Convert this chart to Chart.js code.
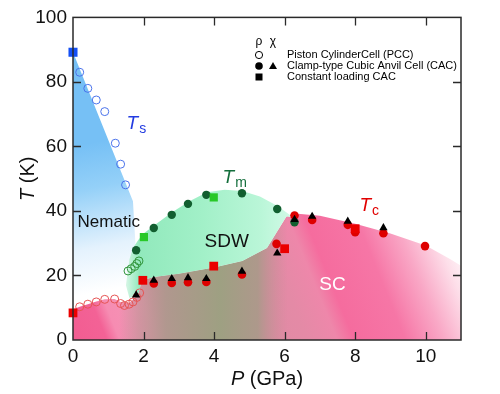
<!DOCTYPE html>
<html><head><meta charset="utf-8">
<script src="https://cdn.jsdelivr.net/npm/chart.js@4/dist/chart.umd.min.js"></script>
<style>html,body{margin:0;padding:0;background:#fff;}canvas{display:block}</style>
</head><body>
<canvas id="c" width="500" height="394"></canvas>
<script>
// ---- axis ticks ----
const xTicks = [0, 2, 4, 6, 8, 10];
const yTicks = [0, 20, 40, 60, 80, 100];

// ---- T_s (nematic) ----
const tsSquareP = [0];
const tsSquareT = [89.2];
const tsPccP = [0.19, 0.42, 0.66, 0.90, 1.20, 1.35, 1.49];
const tsPccT = [83.0, 78.0, 74.4, 70.8, 61.0, 54.5, 48.1];

// ---- T_m (SDW) ----
const tmCacP = [1.79, 2.29, 2.80, 3.26, 3.78, 4.79, 5.79, 6.28];
const tmCacT = [27.8, 34.7, 38.8, 42.2, 45.0, 45.5, 40.6, 36.5];
const tmSquareP = [2.01, 3.99];
const tmSquareT = [31.9, 44.2];
const tmPccP = [1.56, 1.65, 1.75, 1.81, 1.87];
const tmPccT = [21.4, 22.1, 22.8, 23.7, 24.5];

// ---- T_c (SC) ----
const tcPccP = [0.19, 0.42, 0.66, 0.90, 1.18, 1.35, 1.46, 1.59, 1.70, 1.81, 1.89];
const tcPccT = [10.3, 11.1, 11.8, 12.6, 12.7, 11.3, 10.7, 11.1, 11.8, 13.2, 14.6];
const tcRhoCacP = [2.29, 2.80, 3.26, 3.78, 4.79, 5.77, 6.28, 6.78, 7.79, 8.00, 8.80, 9.98];
const tcRhoCacT = [17.5, 17.7, 17.9, 18.0, 20.3, 29.8, 38.6, 37.2, 35.7, 33.4, 33.1, 29.1];
const tcChiCacP = [1.79, 2.29, 2.80, 3.26, 3.78, 4.79, 5.79, 6.28, 6.78, 7.79, 8.80];
const tcChiCacT = [13.9, 18.5, 19.0, 19.3, 19.0, 21.3, 26.9, 37.3, 38.3, 36.8, 34.8];
const tcSquareP = [0, 1.98, 3.99, 6.00, 8.00];
const tcSquareT = [8.4, 18.5, 22.9, 28.3, 34.5];

// ---- shaded phase regions (boundaries in P, T) ----
const nematicP = [0, 1.70, 1.78, 1.85, 1.85, 0, 0];
const nematicT = [89.2, 43, 28, 16, 0, 0, 89.2];
const scP = [0, 0.19, 0.42, 0.66, 0.90, 1.18, 1.35, 1.60, 1.85, 1.95, 2.3, 3.0, 4.0, 4.8, 5.5, 6.05, 6.3, 7.0, 8.0, 9.0, 10.0, 10.7, 11, 11, 0, 0];
const scT = [9.5, 10.3, 11.1, 11.9, 12.6, 12.7, 11.8, 11.5, 14, 18.5, 19.5, 20.5, 22.5, 24.5, 28.5, 38.3, 39.2, 38.5, 36, 33, 29.3, 25, 23, 0, 0, 9.5];
const overlapP = [1.3, 1.6, 1.85, 1.95, 2.3, 3.0, 4.0, 4.8, 5.5, 6.05, 6.1, 1.3, 1.3];
const overlapT = [12, 11.5, 14, 18.5, 19.5, 20.5, 22.5, 24.5, 28.5, 38.3, 0, 0, 12];
const sdwP = [1.5, 1.6, 1.7, 1.85, 2.0, 2.3, 2.8, 3.3, 3.8, 4.3, 4.8, 5.3, 5.8, 6.25, 6.05, 5.5, 4.8, 4.0, 3.0, 2.3, 1.95, 1.85, 1.6, 1.5];
const sdwT = [17, 25, 28.5, 31, 33, 35.5, 39.5, 43, 45.8, 46.6, 46.2, 44.5, 41.5, 38, 38.3, 28.5, 24.5, 22.5, 20.5, 19.5, 18.5, 14, 13, 17];

const FONT = "'Liberation Sans', Arial, sans-serif";

function pts(P, T) { return P.map((p, i) => ({ x: p, y: T[i] })); }
function lin(c, x0, y0, x1, y1, stops) {
  const g = c.createLinearGradient(x0, y0, x1, y1);
  stops.forEach(s => g.addColorStop(s[0], s[1]));
  return g;
}
function regionFill(build) {
  return (ctx) => {
    const ch = ctx.chart;
    if (!ch.chartArea || !ch.scales.x) return 'rgba(0,0,0,0)';
    return build(ch.ctx, ch.scales.x, ch.scales.y);
  };
}
function region(P, T, build, order) {
  return { data: pts(P, T), showLine: true, fill: 'shape', borderWidth: 0, borderColor: 'rgba(0,0,0,0)',
    pointRadius: 0, pointHoverRadius: 0, tension: 0, backgroundColor: regionFill(build), order };
}
function marks(P, T, style, r, fillC, strokeC, bw, order) {
  return { data: pts(P, T), pointStyle: style, pointRadius: r, pointHoverRadius: r,
    backgroundColor: fillC, borderColor: strokeC, borderWidth: bw, pointBorderWidth: bw,
    showLine: false, clip: false, order };
}

const nematicFill = (c, xs, ys) => lin(c, xs.getPixelForValue(0), ys.getPixelForValue(60), xs.getPixelForValue(0.8), ys.getPixelForValue(15),
  [[0, 'rgb(118,192,245)'], [0.3, 'rgb(148,208,248)'], [0.7, 'rgb(228,242,253)'], [1, 'rgb(255,255,255)']]);
const scFill = (c, xs, ys) => {
  const x0 = xs.getPixelForValue(0), y0 = ys.getPixelForValue(0), L = 395;
  return lin(c, x0, y0, x0 + L * 0.926, y0 - L * 0.377,
    [[0, 'rgb(242,92,145)'], [0.08, 'rgb(243,98,150)'], [0.11, 'rgb(246,140,178)'], [0.2, 'rgb(244,150,182)'],
     [0.3, 'rgb(215,140,160)'], [0.55, 'rgb(228,138,166)'], [0.62, 'rgb(238,135,170)'], [0.66, 'rgb(245,108,158)'],
     [0.78, 'rgb(246,118,166)'], [0.87, 'rgb(249,168,198)'], [0.95, 'rgb(253,222,233)'], [1, 'rgb(255,248,250)']]);
};
const overlapFill = (c, xs, ys) => lin(c, xs.getPixelForValue(1.3), 0, xs.getPixelForValue(6.1), 0,
  [[0, 'rgba(170,150,140,0)'], [0.12, 'rgba(175,148,140,0.5)'], [0.28, 'rgba(172,152,140,0.92)'],
   [0.6, 'rgba(158,160,130,1)'], [0.82, 'rgba(165,155,135,0.85)'], [1, 'rgba(200,140,150,0)']]);
const sdwFill = (c, xs, ys) => lin(c, xs.getPixelForValue(1.5), 0, xs.getPixelForValue(6.3), 0,
  [[0, 'rgb(215,246,230)'], [0.08, 'rgb(145,233,188)'], [0.45, 'rgb(162,240,200)'], [0.8, 'rgb(186,246,216)'], [1, 'rgb(212,250,232)']]);

const datasets = [
  region(nematicP, nematicT, nematicFill, 50),
  region(scP, scT, scFill, 49),
  region(overlapP, overlapT, overlapFill, 48),
  region(sdwP, sdwT, sdwFill, 47),
  marks(tsPccP, tsPccT, 'circle', 4, 'rgba(0,0,0,0)', 'rgb(75,115,235)', 1, 20),
  marks(tcPccP, tcPccT, 'circle', 4, 'rgba(0,0,0,0)', 'rgb(230,85,85)', 1, 19),
  marks(tmPccP, tmPccT, 'circle', 4, 'rgba(0,0,0,0)', 'rgb(50,150,60)', 1, 18),
  marks(tcRhoCacP, tcRhoCacT, 'circle', 4.3, 'rgb(222,0,0)', 'rgb(222,0,0)', 0, 17),
  marks(tmCacP, tmCacT, 'circle', 4.2, 'rgb(18,95,48)', 'rgb(18,95,48)', 0, 16),
  marks(tcChiCacP, tcChiCacT, 'triangle', 4.8, 'rgb(0,0,0)', 'rgb(0,0,0)', 0, 15),
  marks(tcSquareP, tcSquareT, 'rect', 6.2, 'rgb(235,0,0)', 'rgb(235,0,0)', 0, 14),
  marks(tmSquareP, tmSquareT, 'rect', 5.8, 'rgb(40,200,40)', 'rgb(40,200,40)', 0, 13),
  marks(tsSquareP, tsSquareT, 'rect', 6.4, 'rgb(20,80,245)', 'rgb(20,80,245)', 0, 12)
];

function subLabel(c, xs, ys, P, T, main, sub, color) {
  const x = xs.getPixelForValue(P), y = ys.getPixelForValue(T);
  c.fillStyle = color;
  c.textBaseline = 'alphabetic'; c.textAlign = 'left';
  c.font = 'italic 19px ' + FONT;
  c.fillText(main, x, y);
  const w = c.measureText(main).width;
  c.font = '14px ' + FONT;
  c.fillText(sub, x + w + 1, y + 4);
}

const decor = {
  id: 'decor',
  afterDatasetsDraw(chart) {
    const c = chart.ctx, xs = chart.scales.x, ys = chart.scales.y;
    c.save();
    subLabel(c, xs, ys, 1.52, 65.4, 'T', 's', 'rgb(35,60,225)');
    subLabel(c, xs, ys, 4.24, 48.8, 'T', 'm', 'rgb(20,110,60)');
    subLabel(c, xs, ys, 8.12, 40.1, 'T', 'c', 'rgb(225,0,0)');
    c.textAlign = 'left'; c.textBaseline = 'alphabetic';
    c.fillStyle = '#111'; c.font = '17px ' + FONT;
    c.fillText('Nematic', xs.getPixelForValue(0.13), ys.getPixelForValue(34.9));
    c.font = '19px ' + FONT;
    c.fillText('SDW', xs.getPixelForValue(3.73), ys.getPixelForValue(28.7));
    c.fillStyle = '#fff';
    c.fillText('SC', xs.getPixelForValue(6.98), ys.getPixelForValue(15.4));
    c.restore();
  },
  afterDraw(chart) {
    const c = chart.ctx, a = chart.chartArea, xs = chart.scales.x, ys = chart.scales.y;
    c.save();
    // frame
    c.strokeStyle = '#2a2a2a'; c.lineWidth = 1.5;
    c.strokeRect(a.left, a.top, a.right - a.left, a.bottom - a.top);
    // inner ticks
    c.lineWidth = 1.3; c.beginPath();
    const tl = 8;
    xTicks.forEach(v => {
      const x = Math.round(xs.getPixelForValue(v)) + 0.5;
      if (v > 0) { c.moveTo(x, a.bottom); c.lineTo(x, a.bottom - tl); c.moveTo(x, a.top); c.lineTo(x, a.top + tl); }
    });
    yTicks.forEach(v => {
      const y = Math.round(ys.getPixelForValue(v)) + 0.5;
      if (v > 0 && v < 100) { c.moveTo(a.left, y); c.lineTo(a.left + tl, y); c.moveTo(a.right, y); c.lineTo(a.right - tl, y); }
    });
    c.stroke();
    // axis titles
    c.fillStyle = '#111';
    c.textBaseline = 'alphabetic'; c.textAlign = 'left';
    c.font = 'italic 20px ' + FONT; const wP = c.measureText('P').width;
    c.font = '20px ' + FONT; const wR = c.measureText(' (GPa)').width;
    let x0 = (a.left + a.right) / 2 - (wP + wR) / 2;
    c.font = 'italic 20px ' + FONT; c.fillText('P', x0, 385);
    c.font = '20px ' + FONT; c.fillText(' (GPa)', x0 + wP, 385);
    c.save();
    c.translate(34, (a.top + a.bottom) / 2);
    c.rotate(-Math.PI / 2);
    c.font = 'italic 20px ' + FONT; const wT = c.measureText('T').width;
    c.font = '20px ' + FONT; const wK = c.measureText(' (K)').width;
    x0 = -(wT + wK) / 2;
    c.font = 'italic 20px ' + FONT; c.fillText('T', x0, 0);
    c.font = '20px ' + FONT; c.fillText(' (K)', x0 + wT, 0);
    c.restore();
    // legend
    c.fillStyle = '#000'; c.strokeStyle = '#000';
    c.font = '12px ' + FONT; c.textAlign = 'center'; c.textBaseline = 'middle';
    c.fillText('ρ', 259, 42); c.fillText('χ', 273, 42);
    c.textAlign = 'left'; c.font = '11px ' + FONT;
    const rows = [55, 66, 77];
    c.lineWidth = 1;
    c.beginPath(); c.arc(259, rows[0], 3.6, 0, Math.PI * 2); c.stroke();
    c.beginPath(); c.arc(259, rows[1], 3.8, 0, Math.PI * 2); c.fill();
    c.beginPath(); c.moveTo(273, rows[1] - 4); c.lineTo(277, rows[1] + 3); c.lineTo(269, rows[1] + 3); c.closePath(); c.fill();
    c.fillRect(255.5, rows[2] - 3.5, 7, 7);
    c.fillText('Piston CylinderCell (PCC)', 287, rows[0]);
    c.fillText('Clamp-type Cubic Anvil Cell (CAC)', 287, rows[1]);
    c.fillText('Constant loading CAC', 287, rows[2]);
    c.restore();
  }
};

new Chart(document.getElementById('c'), {
  type: 'scatter',
  data: { datasets },
  options: {
    responsive: false, animation: false, devicePixelRatio: 1,
    layout: { padding: { top: 16, right: 39, left: 0, bottom: 0 } },
    plugins: { legend: { display: false }, tooltip: { enabled: false } },
    scales: {
      x: {
        type: 'linear', min: 0, max: 11,
        afterFit: (s) => { s.height = 54; },
        afterBuildTicks: (s) => { s.ticks = xTicks.map(v => ({ value: v })); },
        grid: { display: false, drawTicks: false }, border: { display: false },
        ticks: { color: '#111', padding: 5, maxRotation: 0, font: { family: FONT, size: 19 } }
      },
      y: {
        type: 'linear', min: 0, max: 100,
        afterFit: (s) => { s.width = 73; },
        afterBuildTicks: (s) => { s.ticks = yTicks.map(v => ({ value: v })); },
        grid: { display: false, drawTicks: false }, border: { display: false },
        ticks: { color: '#111', padding: 6, font: { family: FONT, size: 19 } }
      }
    }
  },
  plugins: [decor]
});
</script>
</body></html>
